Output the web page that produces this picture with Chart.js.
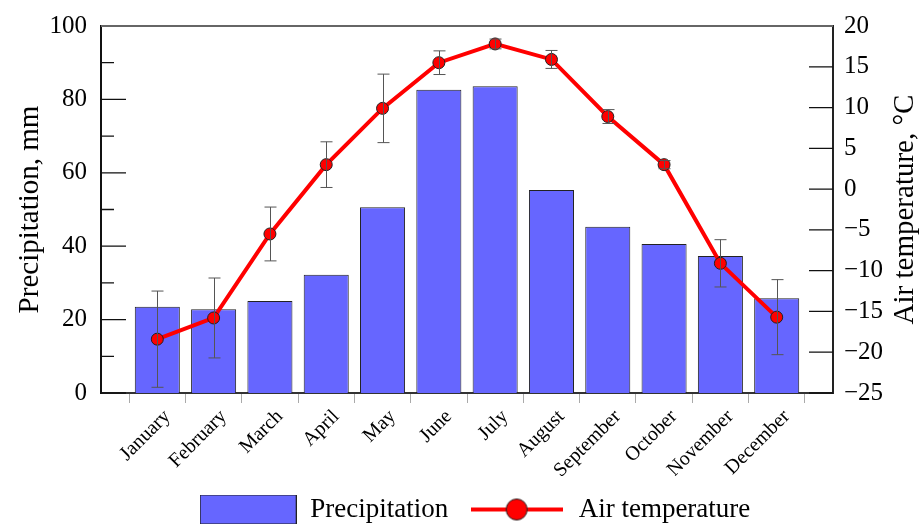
<!DOCTYPE html>
<html>
<head>
<meta charset="utf-8">
<script src="https://cdn.jsdelivr.net/npm/chart.js@4"></script>
<style>
  html, body { margin: 0; padding: 0; background: #fff; }
</style>
</head>
<body>
<canvas id="chart" width="920" height="524"></canvas>
<script>
const months = ['January', 'February', 'March', 'April', 'May', 'June',
  'July', 'August', 'September', 'October', 'November', 'December'];
const precipitation = [23.5, 22.8, 25.1, 32.2, 50.6, 82.6, 83.6, 55.3, 45.3, 40.6, 37.3, 25.8];
const temperature = [-18.4, -15.8, -5.5, 3.0, 9.9, 15.5, 17.8, 15.9, 8.9, 3.0, -9.1, -15.7];
const temperatureError = [5.9, 4.9, 3.3, 2.8, 4.2, 1.45, 0.6, 1.1, 0.85, 0.5, 2.9, 4.6];
const precipTicks = [0, 20, 40, 60, 80, 100];
const precipMinorTicks = [10, 30, 50, 70, 90];
const tempTicks = [-25, -20, -15, -10, -5, 0, 5, 10, 15, 20];

const serif = "'Liberation Serif', 'Times New Roman', serif";
Chart.defaults.font.family = serif;
Chart.defaults.color = '#000';

// legend swatches
function makeSwatch(w, h, draw) {
  const c = document.createElement('canvas');
  c.width = w; c.height = h;
  draw(c.getContext('2d'));
  return c;
}
const barSwatch = makeSwatch(97, 30, g => {
  g.fillStyle = '#6666FF';
  g.fillRect(0, 0, 97, 30);
  g.strokeStyle = '#222';
  g.lineWidth = 1;
  g.strokeRect(0.5, 0.5, 96, 29);
});
const lineSwatch = makeSwatch(92, 24, g => {
  g.strokeStyle = '#FF0000';
  g.lineWidth = 4;
  g.beginPath(); g.moveTo(0, 12); g.lineTo(92, 12); g.stroke();
  g.fillStyle = '#FF0000';
  g.strokeStyle = '#222';
  g.lineWidth = 1;
  g.beginPath(); g.arc(46, 12, 10.5, 0, Math.PI * 2); g.fill(); g.stroke();
});

const frame = {
  id: 'frame',
  afterLayout(chart) {
    // nudge the legend a little to the right, as in the original
    chart.legend.left += 8;
    chart.legend.right += 8;
  },
  afterDatasetsDraw(chart) {
    const {ctx, chartArea: a, scales} = chart;
    ctx.save();
    // error bars
    const meta = chart.getDatasetMeta(1);
    ctx.strokeStyle = '#555';
    ctx.lineWidth = 1;
    meta.data.forEach((pt, i) => {
      const top = scales.yT.getPixelForValue(temperature[i] + temperatureError[i]);
      const bot = scales.yT.getPixelForValue(temperature[i] - temperatureError[i]);
      const x = Math.round(pt.x) + 0.5;
      ctx.beginPath();
      ctx.moveTo(x, top); ctx.lineTo(x, bot);
      ctx.moveTo(x - 6, top); ctx.lineTo(x + 6, top);
      ctx.moveTo(x - 6, bot); ctx.lineTo(x + 6, bot);
      ctx.stroke();
    });
    // inside ticks
    ctx.strokeStyle = '#111';
    ctx.lineWidth = 1.3;
    ctx.beginPath();
    precipTicks.forEach(v => {
      const y = scales.y.getPixelForValue(v);
      ctx.moveTo(a.left, y); ctx.lineTo(a.left + 25, y);
    });
    precipMinorTicks.forEach(v => {
      const y = scales.y.getPixelForValue(v);
      ctx.moveTo(a.left, y); ctx.lineTo(a.left + 13, y);
    });
    tempTicks.forEach(v => {
      const y = scales.yT.getPixelForValue(v);
      ctx.moveTo(a.right, y); ctx.lineTo(a.right - 24, y);
    });
    ctx.stroke();
    // top border
    ctx.strokeStyle = '#666';
    ctx.lineWidth = 2;
    ctx.beginPath();
    ctx.moveTo(a.left, a.top); ctx.lineTo(a.right, a.top);
    ctx.stroke();
    // right axis title, reading bottom to top
    ctx.translate(905, (a.top + a.bottom) / 2);
    ctx.rotate(-Math.PI / 2);
    ctx.font = '29px ' + serif;
    ctx.fillStyle = '#000';
    ctx.textAlign = 'center';
    ctx.textBaseline = 'middle';
    ctx.fillText('Air temperature, \u00B0C', 0, 0);
    ctx.restore();
  }
};

new Chart(document.getElementById('chart'), {
  type: 'bar',
  data: {
    datasets: [
      {
        label: 'Precipitation',
        data: months.map((m, i) => ({x: i, y: precipitation[i]})),
        yAxisID: 'y',
        backgroundColor: '#6666FF',
        borderColor: '#222',
        borderWidth: 1,
        barPercentage: 1,
        categoryPercentage: 0.8,
        order: 1
      },
      {
        type: 'line',
        label: 'Air temperature',
        data: months.map((m, i) => ({x: i, y: temperature[i]})),
        yAxisID: 'yT',
        borderColor: '#FF0000',
        borderWidth: 4,
        pointRadius: 6,
        pointBackgroundColor: '#FF0000',
        pointBorderColor: '#222',
        pointBorderWidth: 1,
        tension: 0,
        order: 0
      }
    ]
  },
  options: {
    responsive: false,
    animation: false,
    layout: { padding: { top: 26, left: 0, right: 0, bottom: -9 } },
    plugins: {
      tooltip: { enabled: false },
      legend: {
        position: 'bottom',
        fullSize: false,
        labels: {
          usePointStyle: true,
          pointStyleWidth: 97,
          boxHeight: 30,
          padding: 20,
          font: { size: 27 },
          color: '#000',
          generateLabels(chart) {
            const items = Chart.defaults.plugins.legend.labels.generateLabels(chart);
            items.sort((a, b) => a.datasetIndex - b.datasetIndex);
            items.forEach(it => {
              it.pointStyle = it.datasetIndex === 0 ? barSwatch : lineSwatch;
            });
            return items;
          }
        }
      }
    },
    scales: {
      x: {
        type: 'linear',
        min: -1,
        max: 12,
        offset: false,
        afterBuildTicks: axis => { axis.ticks = months.map((m, i) => ({value: i})); },
        afterFit: axis => { axis.height = 83; },
        ticks: {
          callback: v => months[v],
          maxRotation: 45,
          minRotation: 45,
          autoSkip: false,
          padding: 2,
          labelOffset: 10,
          font: { size: 20 },
          color: '#000'
        },
        grid: { drawOnChartArea: false, tickLength: 10, color: '#aaa' },
        border: { color: '#333', width: 2 }
      },
      y: {
        position: 'left',
        min: 0,
        max: 100,
        afterBuildTicks: axis => { axis.ticks = precipTicks.map(v => ({value: v})); },
        afterFit: axis => { axis.width = 101; axis.paddingTop = 0; axis.paddingBottom = 0; },
        ticks: { font: { size: 25 }, padding: 14, color: '#000' },
        grid: { display: false, drawTicks: false },
        border: { color: '#111', width: 2 },
        title: {
          display: true,
          text: 'Precipitation, mm',
          font: { size: 29, lineHeight: 1 },
          color: '#000',
          padding: { top: 16, bottom: 0 }
        }
      },
      yT: {
        position: 'right',
        min: -25,
        max: 20,
        afterBuildTicks: axis => { axis.ticks = tempTicks.map(v => ({value: v})); },
        afterFit: axis => { axis.width = 87; axis.paddingTop = 0; axis.paddingBottom = 0; },
        ticks: {
          font: { size: 25 },
          padding: 11,
          color: '#000',
          callback: v => String(v).replace('-', '\u2212')
        },
        grid: { display: false, drawTicks: false },
        border: { color: '#222', width: 2 }
      }
    }
  },
  plugins: [frame]
});
</script>
</body>
</html>
